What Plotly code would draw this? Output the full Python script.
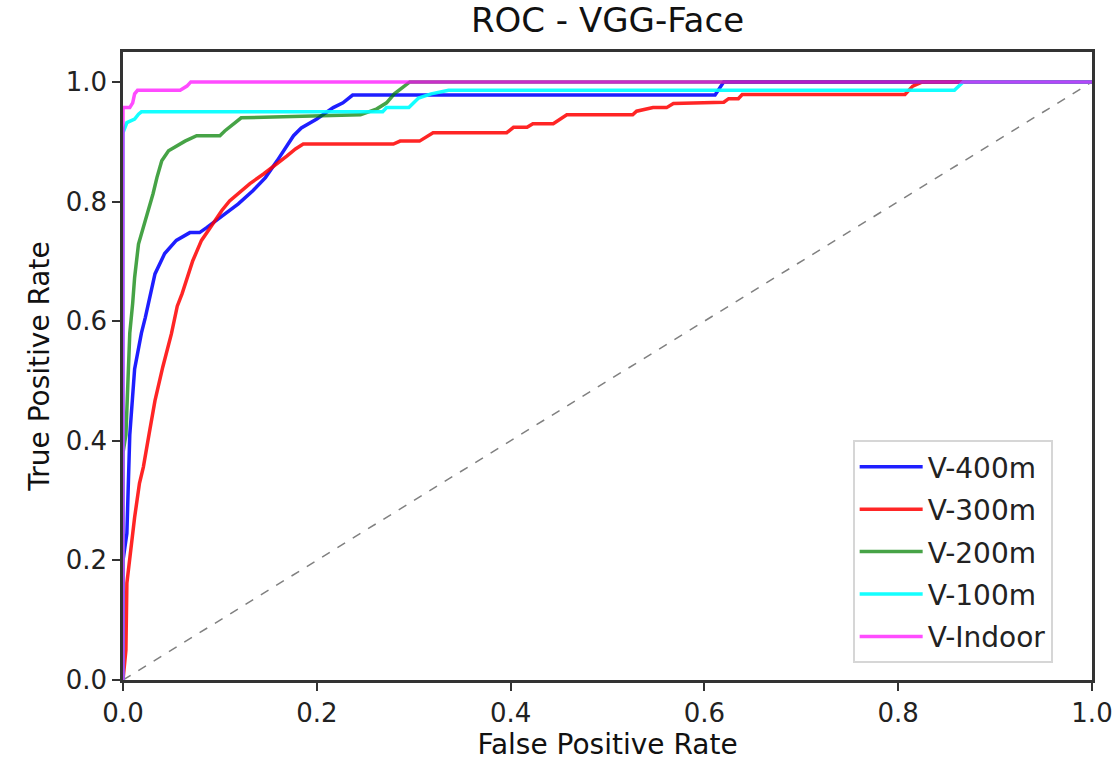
import plotly.graph_objects as go

# ---- data ----
series_names = ["V-400m", "V-300m", "V-200m", "V-100m", "V-Indoor"]
series_colors = ["#0000ff", "#ff0000", "#008000", "#00ffff", "#ff00ff"]
series_opacity = [0.88, 0.85, 0.72, 0.92, 0.7]

fpr_400 = [0.0, 0.0, 0.004, 0.005, 0.007, 0.012, 0.019, 0.023, 0.027, 0.033, 0.043, 0.055,
           0.069, 0.079, 0.086, 0.105, 0.119, 0.134, 0.147, 0.159, 0.167, 0.176, 0.184,
           0.193, 0.200, 0.217, 0.227, 0.237, 0.611, 0.620, 1.0]
tpr_400 = [0.0, 0.20, 0.245, 0.30, 0.41, 0.52, 0.58, 0.606, 0.634, 0.679, 0.713, 0.735,
           0.748, 0.748, 0.756, 0.779, 0.796, 0.818, 0.840, 0.868, 0.888, 0.910, 0.923,
           0.931, 0.938, 0.957, 0.965, 0.978, 0.978, 1.0, 1.0]

fpr_300 = [0.0, 0.003, 0.004, 0.009, 0.012, 0.017, 0.021, 0.027, 0.033, 0.041, 0.050,
           0.056, 0.061, 0.072, 0.081, 0.090, 0.102, 0.110, 0.119, 0.131, 0.145, 0.159,
           0.169, 0.178, 0.186, 0.279, 0.286, 0.306, 0.313, 0.320, 0.396, 0.403, 0.417,
           0.423, 0.444, 0.451, 0.458, 0.526, 0.530, 0.547, 0.561, 0.568, 0.620, 0.625,
           0.635, 0.639, 0.807, 0.815, 0.825, 1.0]
tpr_300 = [0.0, 0.05, 0.162, 0.234, 0.272, 0.329, 0.356, 0.412, 0.467, 0.523, 0.579,
           0.625, 0.646, 0.701, 0.735, 0.756, 0.785, 0.801, 0.813, 0.830, 0.846, 0.863,
           0.876, 0.888, 0.896, 0.896, 0.901, 0.901, 0.908, 0.915, 0.915, 0.924, 0.924,
           0.930, 0.930, 0.938, 0.945, 0.945, 0.951, 0.957, 0.957, 0.964, 0.966, 0.972,
           0.972, 0.979, 0.979, 0.993, 1.0, 1.0]

fpr_200 = [0.0, 0.0, 0.003, 0.005, 0.007, 0.010, 0.012, 0.016, 0.021, 0.026, 0.031, 0.035,
           0.040, 0.047, 0.055, 0.064, 0.076, 0.100, 0.105, 0.114, 0.122, 0.245, 0.262,
           0.272, 0.280, 0.288, 0.296, 1.0]
tpr_200 = [0.0, 0.38, 0.41, 0.50, 0.58, 0.63, 0.673, 0.729, 0.756, 0.785, 0.813, 0.840,
           0.868, 0.885, 0.893, 0.901, 0.910, 0.910, 0.918, 0.929, 0.940, 0.945, 0.955,
           0.965, 0.980, 0.990, 1.0, 1.0]

fpr_100 = [0.0, 0.0, 0.004, 0.012, 0.016, 0.019, 0.268, 0.272, 0.295, 0.305, 0.318, 0.336,
           0.858, 0.867, 1.0]
tpr_100 = [0.0, 0.915, 0.932, 0.938, 0.946, 0.950, 0.950, 0.957, 0.957, 0.973, 0.980, 0.986,
           0.986, 1.0, 1.0]

fpr_indoor = [0.0, 0.0, 0.007, 0.010, 0.012, 0.015, 0.059, 0.066, 0.070, 1.0]
tpr_indoor = [0.0, 0.957, 0.957, 0.965, 0.980, 0.986, 0.986, 0.993, 1.0, 1.0]

chance_x = [0.0, 1.0]
chance_y = [0.0, 1.0]

x_ticks = [0.0, 0.2, 0.4, 0.6, 0.8, 1.0]
x_tick_text = ["0.0", "0.2", "0.4", "0.6", "0.8", "1.0"]
y_ticks = [0.0, 0.2, 0.4, 0.6, 0.8, 1.0]
y_tick_text = ["0.0", "0.2", "0.4", "0.6", "0.8", "1.0"]

all_fpr = [fpr_400, fpr_300, fpr_200, fpr_100, fpr_indoor]
all_tpr = [tpr_400, tpr_300, tpr_200, tpr_100, tpr_indoor]

FONT = "DejaVu Sans, Liberation Sans, sans-serif"

fig = go.Figure()

fig.add_trace(go.Scatter(
    x=chance_x, y=chance_y, mode="lines",
    line=dict(color="#808080", width=1.5, dash="dash"),
    showlegend=False, hoverinfo="skip"))

for i, name in enumerate(series_names):
    fig.add_trace(go.Scatter(
        x=all_fpr[i], y=all_tpr[i], mode="lines", name=name,
        line=dict(color=series_colors[i], width=3.5),
        opacity=series_opacity[i], legendgroup=name))

axis_common = dict(
    showgrid=False, zeroline=False, showline=True, mirror=True,
    linecolor="#333333", linewidth=2.5,
    ticks="outside", ticklen=8, tickwidth=1.5, tickcolor="#333333",
    tickfont=dict(family=FONT, size=26, color="#222222"),
    ticklabeloverflow="allow",
    layer="above traces")

fig.update_xaxes(range=[0.0, 1.0], tickmode="array",
                 tickvals=x_ticks, ticktext=x_tick_text,
                 title=dict(text="False Positive Rate",
                            font=dict(family=FONT, size=28, color="#111111"),
                            standoff=8),
                 **axis_common)
fig.update_yaxes(range=[0.0, 1.05], tickmode="array",
                 tickvals=y_ticks, ticktext=y_tick_text,
                 title=dict(text="True Positive Rate",
                            font=dict(family=FONT, size=28, color="#111111"),
                            standoff=8),
                 **axis_common)

fig.update_layout(
    width=1112, height=765,
    margin=dict(l=123, r=20, t=52, b=85, autoexpand=False),
    paper_bgcolor="white", plot_bgcolor="white",
    title=dict(text="ROC - VGG-Face", x=0.5, xref="paper", xanchor="center",
               y=1 - 20 / 765, yref="container", yanchor="middle",
               font=dict(family=FONT, size=34, color="#111111")),
    legend=dict(x=0.753, y=0.382, xanchor="left", yanchor="top",
                bgcolor="rgba(255,255,255,0.8)", bordercolor="#d6d6d6",
                borderwidth=2, font=dict(family=FONT, size=28, color="#222222"),
                tracegroupgap=3, itemwidth=63),
)

fig.write_html("out.html")
